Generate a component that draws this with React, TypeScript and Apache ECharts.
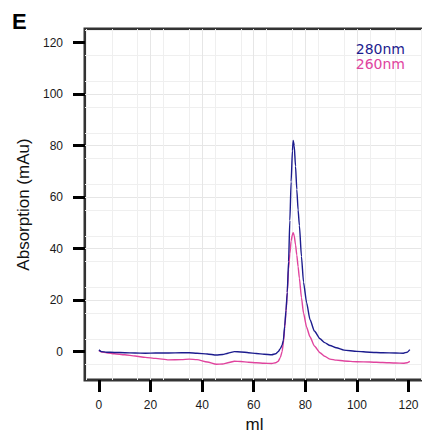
import React, { useEffect, useRef } from "react";
import * as echarts from "echarts";

const xs = [0, 1, 3, 6, 10, 14, 18, 22, 27, 32, 35, 38, 42, 45.5, 48, 50, 52.5, 55, 58, 61, 64, 67, 68.5, 69.5, 70.3, 71, 71.5, 72, 72.5, 73, 73.5, 74, 74.5, 75, 75.3, 75.7, 76.2, 76.7, 77.2, 77.7, 78.5, 79.3, 80.5, 81.8, 83.5, 85.7, 87.5, 89.6, 92, 95, 100, 105, 110, 115, 118, 119.5, 120.5];
const a280 = [0.7, 0.0, -0.2, -0.3, -0.4, -0.5, -0.6, -0.5, -0.5, -0.4, -0.4, -0.6, -0.9, -1.3, -1.1, -0.6, 0.0, -0.1, -0.4, -0.7, -1.0, -1.2, -0.8, 0.0, 1.2, 2.5, 4.5, 10, 16, 23, 35, 51, 66, 78, 82, 80, 72, 63, 55, 49, 37, 27, 19, 12.5, 8, 5, 3.5, 2.4, 1.5, 0.6, 0.1, -0.2, -0.4, -0.5, -0.6, -0.2, 0.8];
const a260 = [0.4, -0.1, -0.4, -0.8, -1.2, -1.7, -2.2, -2.6, -3.2, -3.1, -2.9, -3.1, -4.0, -4.9, -4.8, -4.3, -3.7, -3.8, -4.1, -4.3, -4.5, -4.6, -4.3, -3.7, -2.3, 0.0, 3.5, 9, 15, 23, 32, 38, 43, 45.5, 46.2, 45, 41.5, 37.5, 33, 28.5, 21, 15, 9.5, 5.8, 2.2, -0.4, -1.8, -2.9, -3.3, -3.6, -3.9, -4.0, -4.2, -4.4, -4.5, -4.3, -3.8];
const xTicks = [0, 20, 40, 60, 80, 100, 120];
const yTicks = [0, 20, 40, 60, 80, 100, 120];
const seriesNames = ["280nm", "260nm"];
const seriesValues = [a280, a260];
const colors = ["#1c1c8e", "#e0449e"];
const panelLabel = "E";
const xName = "ml";
const yName = "Absorption (mAu)";

export default function App() {
  const ref = useRef<HTMLDivElement>(null);
  useEffect(() => {
    if (!ref.current) return;
    const chart = echarts.init(ref.current, null, { renderer: "svg" });
    const font = "'Liberation Sans', Arial, Helvetica, sans-serif";
    const legendFont = "14px 'DejaVu Sans', sans-serif";
    const gridColor = "#e6e6e6";
    chart.setOption({
      animation: false,
      backgroundColor: "#fff",
      grid: {
        left: 85,
        top: 29,
        width: 339,
        height: 351,
        show: true,
        borderColor: "#333",
        borderWidth: 3,
        backgroundColor: "#fff",
        containLabel: false,
        outerBoundsMode: "none",
      },
      xAxis: {
        type: "value",
        min: -5.4,
        max: 126,
        minInterval: 10,
        maxInterval: 10,
        splitNumber: 13,
        axisLine: { show: false, onZero: false },
        axisTick: { show: true, inside: false, customValues: xTicks, length: 12, lineStyle: { color: "#000", width: 3 } },
        axisLabel: { customValues: xTicks, margin: 19, fontSize: 12, color: "#1a1a1a", fontFamily: font },
        splitLine: { show: true, showMinLine: false, showMaxLine: false, lineStyle: { color: gridColor, width: 1 } },
        minorTick: { show: false, splitNumber: 2 },
        minorSplitLine: { show: true, lineStyle: { color: "#efefef", width: 1 } },
        name: xName,
        nameLocation: "middle",
        nameGap: 36,
        nameTextStyle: { fontSize: 17, color: "#111", fontFamily: font },
      },
      yAxis: {
        type: "value",
        min: -11.0,
        max: 125.3,
        minInterval: 10,
        maxInterval: 10,
        splitNumber: 13,
        axisLine: { show: false, onZero: false },
        axisTick: { show: true, inside: false, customValues: yTicks, length: 12, lineStyle: { color: "#000", width: 3 } },
        axisLabel: { customValues: yTicks, margin: 22, fontSize: 12, color: "#1a1a1a", fontFamily: font },
        splitLine: { show: true, showMinLine: false, showMaxLine: false, lineStyle: { color: gridColor, width: 1 } },
        minorTick: { show: false, splitNumber: 2 },
        minorSplitLine: { show: true, lineStyle: { color: "#efefef", width: 1 } },
        name: yName,
        nameLocation: "middle",
        nameGap: 45,
        nameTextStyle: { fontSize: 17, color: "#111", fontFamily: font },
      },
      graphic: [
        { type: "text", left: 12, top: 10, style: { text: panelLabel, font: `bold 22px ${font}`, fill: "#000" } },
        { type: "text", x: 405, y: 49, z: 10, style: { text: seriesNames[0], fill: colors[0], font: legendFont, lineHeight: 14, textAlign: "right", textVerticalAlign: "middle" } },
        { type: "text", x: 405, y: 64, z: 10, style: { text: seriesNames[1], fill: colors[1], font: legendFont, lineHeight: 14, textAlign: "right", textVerticalAlign: "middle" } },
      ],
      series: seriesNames.map((n, i) => ({
        type: "line",
        name: n,
        data: xs.map((x, j) => [x, seriesValues[i][j]]),
        showSymbol: false,
        smooth: 0.2,
        smoothMonotone: "x",
        lineStyle: { color: colors[i], width: 1.4 },
        itemStyle: { color: colors[i] },
        z: i === 0 ? 3 : 2,
      })),
    });
    return () => chart.dispose();
  }, []);
  return <div ref={ref} style={{ position: "fixed", left: 0, top: 0, width: 422, height: 438 }} />;
}
